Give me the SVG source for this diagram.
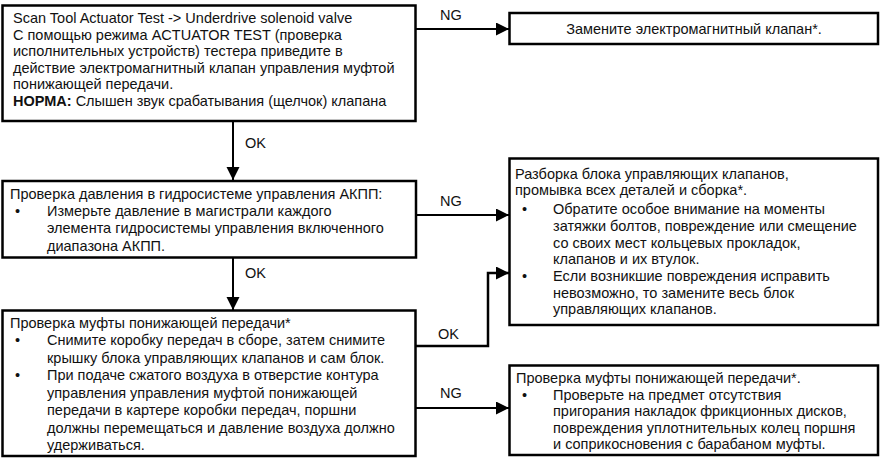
<svg xmlns="http://www.w3.org/2000/svg" width="882" height="459" viewBox="0 0 882 459">
<style>
.box{fill:#fff;stroke:#000;stroke-width:2.5}
.t{font-family:"Liberation Sans",Arial,sans-serif;font-size:14.5px;fill:#111}
.b{font-weight:bold}
.c{fill:none;stroke:#000;stroke-width:2}
.lbl{font-family:"Liberation Sans",Arial,sans-serif;font-size:14.5px;fill:#111}
</style>
<defs>
<marker id="ah" markerUnits="userSpaceOnUse" markerWidth="14" markerHeight="14" refX="13" refY="6.5" orient="auto">
<path d="M0,0 L13,6.5 L0,13 Z" fill="#000"/>
</marker>
</defs>
<rect width="882" height="459" fill="#fff"/>

<g id="connectors">
<path class="c" d="M415.5,29 H509" marker-end="url(#ah)"/>
<text class="lbl" x="440" y="20">NG</text>
<path class="c" d="M233,121 V180" marker-end="url(#ah)"/>
<text class="lbl" x="245" y="148">OK</text>
<path class="c" d="M416,215 H509" marker-end="url(#ah)"/>
<text class="lbl" x="440" y="206">NG</text>
<path class="c" d="M233,257.5 V310" marker-end="url(#ah)"/>
<text class="lbl" x="245" y="278">OK</text>
<path class="c" style="stroke-width:2.5" d="M415.5,346 H488 V273 H509" marker-end="url(#ah)"/>
<text class="lbl" x="438" y="339">OK</text>
<path class="c" d="M415.5,408 H509" marker-end="url(#ah)"/>
<text class="lbl" x="440" y="398">NG</text>
</g>

<g id="n1">
<rect class="box" x="2.5" y="5.5" width="413" height="115.5"/>
<text class="t" x="13" y="23">Scan Tool Actuator Test -&gt; Underdrive solenoid valve</text>
<text class="t" x="13" y="39.6">С помощью режима ACTUATOR TEST (проверка</text>
<text class="t" x="13" y="56.2">исполнительных устройств) тестера приведите в</text>
<text class="t" x="13" y="72.8">действие электромагнитный клапан управления муфтой</text>
<text class="t" x="13" y="89.4">понижающей передачи.</text>
<text class="t" x="13" y="106"><tspan class="b">НОРМА:</tspan> Слышен звук срабатывания (щелчок) клапана</text>
</g>

<g id="n2">
<rect class="box" x="509.5" y="13" width="368.5" height="31"/>
<text class="t" x="694" y="33.5" text-anchor="middle">Замените электромагнитный клапан*.</text>
</g>

<g id="n3">
<rect class="box" x="2.5" y="181" width="413.5" height="76.5"/>
<text class="t" x="10" y="198.5">Проверка давления в гидросистеме управления АКПП:</text>
<text class="t" x="15" y="216">•</text>
<text class="t" x="47" y="216">Измерьте давление в магистрали каждого</text>
<text class="t" x="47" y="233">элемента гидросистемы управления включенного</text>
<text class="t" x="47" y="250.5">диапазона АКПП.</text>
</g>

<g id="n4">
<rect class="box" x="509.5" y="158.5" width="368.5" height="166.5"/>
<text class="t" x="515" y="178.5">Разборка блока управляющих клапанов,</text>
<text class="t" x="515" y="195">промывка всех деталей и сборка*.</text>
<text class="t" x="522" y="213.5">•</text>
<text class="t" x="553" y="213.5">Обратите особое внимание на моменты</text>
<text class="t" x="553" y="230.5">затяжки болтов, повреждение или смещение</text>
<text class="t" x="553" y="247.5">со своих мест кольцевых прокладок,</text>
<text class="t" x="553" y="264">клапанов и их втулок.</text>
<text class="t" x="522" y="281">•</text>
<text class="t" x="553" y="281">Если возникшие повреждения исправить</text>
<text class="t" x="553" y="297.5">невозможно, то замените весь блок</text>
<text class="t" x="553" y="314">управляющих клапанов.</text>
</g>

<g id="n5">
<rect class="box" x="2.5" y="310.5" width="413" height="145.5"/>
<text class="t" x="10" y="327.5">Проверка муфты понижающей передачи*</text>
<text class="t" x="15" y="345">•</text>
<text class="t" x="47" y="345">Снимите коробку передач в сборе, затем снимите</text>
<text class="t" x="47" y="362.5">крышку блока управляющих клапанов и сам блок.</text>
<text class="t" x="15" y="380">•</text>
<text class="t" x="47" y="380">При подаче сжатого воздуха в отверстие контура</text>
<text class="t" x="47" y="397.5">управления управления муфтой понижающей</text>
<text class="t" x="47" y="415">передачи в картере коробки передач, поршни</text>
<text class="t" x="47" y="432.5">должны перемещаться и давление воздуха должно</text>
<text class="t" x="47" y="450">удерживаться.</text>
</g>

<g id="n6">
<rect class="box" x="509.5" y="365.5" width="368.5" height="89.5"/>
<text class="t" x="516" y="383">Проверка муфты понижающей передачи*.</text>
<text class="t" x="522" y="399.5">•</text>
<text class="t" x="553" y="399.5">Проверьте на предмет отсутствия</text>
<text class="t" x="553" y="416">пригорания накладок фрикционных дисков,</text>
<text class="t" x="553" y="432.5">повреждения уплотнительных колец поршня</text>
<text class="t" x="553" y="449">и соприкосновения с барабаном муфты.</text>
</g>
</svg>
